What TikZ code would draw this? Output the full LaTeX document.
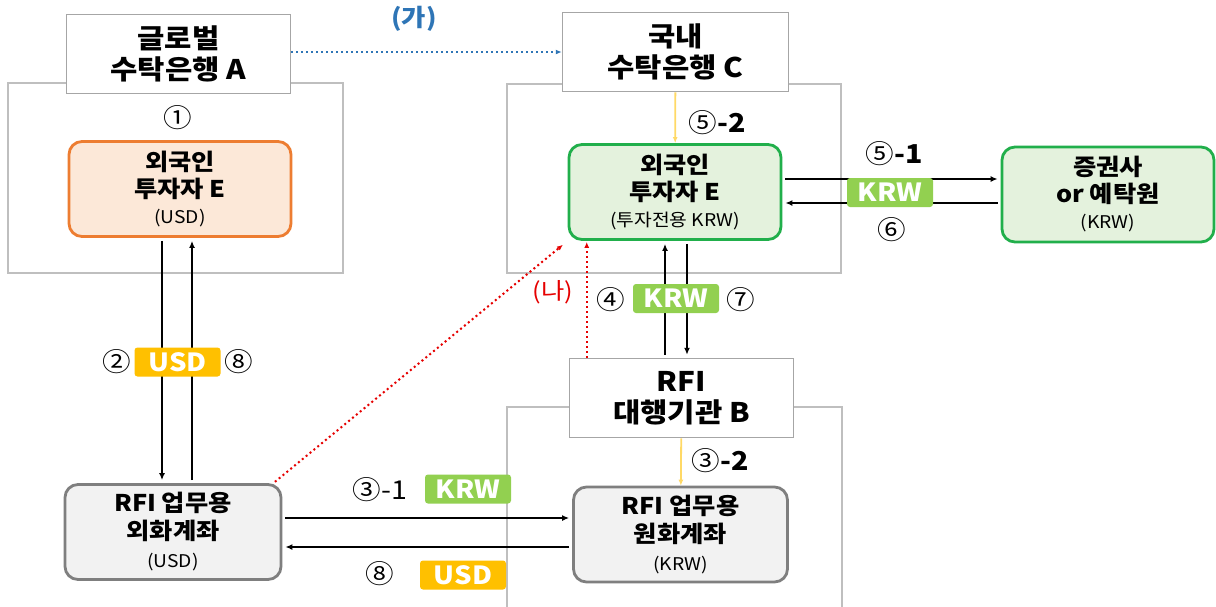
\documentclass[tikz,border=0pt]{standalone}
\usepackage{fontspec}
\setmainfont{Noto Sans CJK KR}[FakeStretch=1.1]
\usepackage{xcolor}
\usetikzlibrary{arrows.meta}
\definecolor{titlegrey}{RGB}{166,166,166}
\definecolor{zonegrey}{RGB}{191,191,191}
\definecolor{usdorange}{RGB}{237,125,49}
\definecolor{usdfill}{RGB}{252,232,216}
\definecolor{krwgreen}{RGB}{33,175,75}
\definecolor{krwfill}{RGB}{228,242,221}
\definecolor{acctgrey}{RGB}{127,127,127}
\definecolor{acctfill}{RGB}{242,242,242}
\definecolor{krwtag}{RGB}{146,208,80}
\definecolor{usdtag}{RGB}{255,192,0}
\definecolor{feedyellow}{RGB}{255,217,102}
\definecolor{linkblue}{RGB}{46,117,182}
\definecolor{linkred}{RGB}{230,0,0}
\tikzset{
bank/.style = { rectangle, draw = titlegrey, line width = 1.5pt, fill = white, minimum width = 224pt, minimum height = 79pt, inner sep = 0pt, align = center, font = \bfseries\fontsize{27}{30.5}\selectfont },
zone/.style = { draw = zonegrey, line width = 1.2pt },
holder/.style = { rectangle, rounded corners = 13pt, line width = 2.8pt, minimum width = 222pt, minimum height = 95pt, inner sep = 0pt, align = center, font = \bfseries\fontsize{23}{26.5}\selectfont },
usd holder/.style = { holder, draw = usdorange, fill = usdfill },
krw holder/.style = { holder, draw = krwgreen, fill = krwfill, minimum width = 212pt },
account/.style = { holder, draw = acctgrey, fill = acctfill, minimum width = 214pt, font = \bfseries\fontsize{23}{28}\selectfont },
tag/.style = { rectangle, rounded corners = 3pt, minimum width = 86pt, minimum height = 29pt, inner sep = 0pt, text = white, font = \bfseries\fontsize{25}{25}\selectfont },
usd tag/.style = { tag, fill = usdtag },
krw tag/.style = { tag, fill = krwtag },
num/.style = { inner sep = 1pt, font = \fontsize{26}{26}\selectfont },
flow/.style = { -{Latex[length = 7pt, width = 6pt]}, line width = 1.8pt, shorten <= 3pt, shorten >= 3pt },
feed/.style = { -{Latex[length = 6pt, width = 5pt]}, draw = feedyellow, line width = 1.8pt },
link/.style = { -{Latex[length = 6pt, width = 5pt]}, line width = 2pt, dash pattern = on 2pt off 3pt },
}
\newcommand{\sub}[1]{{\mdseries\fontsize{17.5}{20}\selectfont #1}}

\begin{document}
\begin{tikzpicture}[x = 1pt, y = -1pt]
    \useasboundingbox[fill = white] (0, 0) rectangle (1216, 606);
    % zones behind the banks
    \draw[zone] (8, 83) rectangle (343, 273);
    \draw[zone] (507, 84) rectangle (841, 273);
    \draw[zone] (507, 407) rectangle (842, 615);
    \node[bank] (bankA) at (178.5, 54) {글로벌\\수탁은행 A};
    \node[bank, minimum width = 226pt] (bankC) at (675.5, 52) {국내\\수탁은행 C};
    \node[bank] (agentB) at (681.5, 398) {RFI\\대행기관 B};
    \node[usd holder] (investorA) at (180, 189) {외국인\\투자자 E\\\sub{(USD)}};
    \node[krw holder] (investorC) at (675, 192) {외국인\\투자자 E\\\sub{(투자전용 KRW)}};
    \node[krw holder] (broker) at (1108, 194.5) {증권사\\or 예탁원\\\sub{(KRW)}};
    \node[account, minimum width = 216pt] (fxacct) at (173, 532) {RFI 업무용\\외화계좌\\\sub{(USD)}};
    \node[account] (krwacct) at (680.5, 534.5) {RFI 업무용\\원화계좌\\\sub{(KRW)}};
    \draw[flow] ([xshift = -18pt]investorA.south) -- ([xshift = -18pt]investorA.south |- fxacct.north);
    \draw[flow] ([xshift = 12pt]investorA.south |- fxacct.north) -- ([xshift = 12pt]investorA.south);
    \draw[flow] ([yshift = 14pt]fxacct.east) -- ([yshift = 14pt]fxacct.east -| krwacct.west);
    \draw[flow] ([yshift = -15pt]fxacct.east -| krwacct.west) -- ([yshift = -15pt]fxacct.east);
    \draw[flow] ([yshift = 13pt]investorC.east) -- ([yshift = 13pt]investorC.east -| broker.west);
    \draw[flow] ([yshift = -11pt]investorC.east -| broker.west) -- ([yshift = -11pt]investorC.east);
    \draw[flow] ([xshift = -10pt]investorC.south |- agentB.north) -- ([xshift = -10pt]investorC.south);
    \draw[flow] ([xshift = 12pt]investorC.south) -- ([xshift = 12pt]investorC.south |- agentB.north);
    \draw[feed] (bankC) -- (investorC);
    \draw[feed] (agentB) -- (krwacct);
    \draw[link, linkblue] ([yshift = 2pt]bankA.east) -- ([yshift = 2pt]bankA.east -| bankC.west);
    \draw[link, linkred, shorten <= 2pt, shorten >= 6pt] ([xshift = -9pt]fxacct.north east) -- (investorC.south west);
    \draw[link, linkred, shorten >= 1pt] ([xshift = 18pt]agentB.north west) -- ([xshift = 18pt]agentB.north west |- investorC.south);
    \node[usd tag] (usdA) at (177.5, 362) {USD};
    \node[krw tag] (krwC) at (890, 192.5) {KRW};
    \node[krw tag] (krwB) at (676, 298.5) {KRW};
    \node[krw tag] (krwacctin) at (468, 489) {KRW};
    \node[usd tag] (usdacctout) at (463, 575) {USD};
    \node[num] (n1) at (178, 118) {①};
    \node[num] (n2) at (117, 362) {②};
    \node[num] (n8a) at (239, 362) {⑧};
    \node[num] (n31) at (380, 490) {③-1};
    \node[num] (n8b) at (380, 574) {⑧};
    \node[num] (n32) at (720, 461) {③\textbf{-2}};
    \node[num] (n4) at (611, 300) {④};
    \node[num] (n7) at (741, 300) {⑦};
    \node[num] (n51) at (894, 154) {⑤\textbf{-1}};
    \node[num] (n6) at (892, 230) {⑥};
    \node[num] (n52) at (717, 123) {⑤\textbf{-2}};
    \node[linkblue, font = \bfseries\fontsize{24}{24}\selectfont] (ga) at (414, 19) {(가)};
    \node[linkred, font = \fontsize{23}{23}\selectfont] (na) at (553, 292) {(나)};
\end{tikzpicture}
\end{document}
